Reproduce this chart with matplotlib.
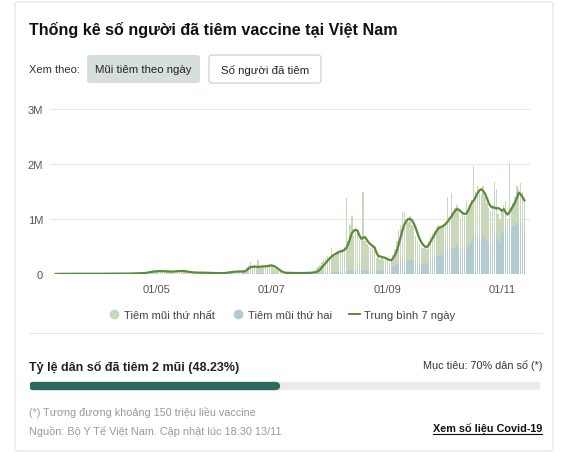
import numpy as np
import pandas as pd
import matplotlib.pyplot as plt
from matplotlib.patches import FancyBboxPatch
from matplotlib.lines import Line2D

plt.rcParams['font.family'] = ['Liberation Sans', 'DejaVu Sans']

# daily doses (thousands), 08/03 -> 13/11
first_mar = [1,1,2,3,3,4,4,3,4,5,4,5,4,3,5,6,5,4,6,5,4,6,5,5]
first_apr = [4,5,6,5,4,7,6,6,7,5,8,7,6,9,8,7,10,9,12,10,11,13,15,18,25,30,45,55,60,50]
first_may = [70,40,55,60,45,80,50,40,35,55,45,75,50,60,45,40,30,25,30,35,20,30,25,22,28,20,18,25,15,20,18]
first_jun = [15,18,12,14,20,22,18,30,35,40,38,45,40,50,42,55,60,120,160,200,110,140,90,230,120,100,150,130,140,160]
first_jul = [170,120,90,60,40,30,20,25,18,15,20,22,18,20,15,18,20,17,16,20,25,30,40,60,90,120,150,200,230,270,300]
first_aug = [270,445,310,285,355,330,405,365,450,1310,540,835,980,640,775,680,555,630,1410,525,480,440,415,450,390,250,265,220,230,195,210]
first_sep = [170,130,140,230,300,420,600,680,900,870,760,720,790,650,610,490,400,360,320,310,320,270,380,440,470,500,530,560,500,530]
first_oct = [520,550,950,580,990,650,700,730,670,570,640,600,810,650,700,750,1260,850,920,890,830,900,760,700,640,610,650,950,850,480,420]
first_nov = [400,450,480,300,1130,380,420,500,650,630,690,600,480]

second_mar = [0]*24
second_apr = [0]*30
second_may = [0,0,0,0,0,0,0,0,0,0,1,1,1,2,2,2,2,3,2,3,3,2,3,3,4,3,3,4,3,4,3]
second_jun = [3,4,3,5,4,6,5,6,8,7,9,8,10,9,12,10,11,15,12,18,14,16,13,20,15,14,18,16,17,15]
second_jul = [15,12,10,8,6,5,4,4,3,3,4,4,3,4,3,4,4,3,3,4,5,6,8,10,12,15,18,20,25,28,30]
second_aug = [30,35,40,35,45,50,45,55,50,70,60,65,70,60,75,70,65,70,80,75,70,60,65,70,60,50,55,60,70,65,70]
second_sep = [80,70,90,120,150,180,200,220,250,260,240,230,260,250,240,210,200,190,180,170,200,180,220,260,280,300,320,340,330,350]
second_oct = [380,400,450,420,480,450,500,520,480,430,460,450,520,500,550,600,700,650,680,660,620,700,640,600,560,540,600,720,700,620,580]
second_nov = [750,800,850,700,900,820,880,900,950,920,960,900,870]

avg_mar = [1,2,2,3,3,3,3,4,4,4,4,4,4,4,5,5,5,5,5,5,5,5,5,5]
avg_apr = [5,5,5,5,6,6,6,6,6,6,7,7,7,8,8,8,9,9,10,10,11,12,14,16,20,25,32,38,44,48]
avg_may = [50,52,53,52,50,48,46,45,44,45,47,50,54,55,55,52,47,40,34,30,28,26,25,25,24,23,22,20,20,19,18]
avg_jun = [17,16,15,15,16,18,20,24,30,36,40,42,44,45,45,46,50,70,100,125,132,133,132,130,132,135,138,140,145,150]
avg_jul = [155,150,135,110,85,60,40,28,22,20,20,19,18,18,17,17,17,18,18,19,20,22,25,28,35,50,80,120,160,200,240]
avg_aug = [280,310,340,360,380,400,410,420,440,470,540,640,740,790,800,790,700,640,660,670,620,570,540,510,490,400,330,320,310,300,290]
avg_sep = [270,255,250,290,350,420,540,670,800,900,960,1000,1000,980,920,840,740,650,580,530,500,490,530,590,650,710,770,820,850,860]
avg_oct = [880,910,950,1000,1040,1100,1150,1180,1170,1140,1110,1090,1100,1150,1230,1300,1340,1400,1470,1520,1540,1510,1460,1380,1290,1230,1210,1210,1190,1200,1180]
avg_nov = [1150,1180,1120,1080,1120,1180,1240,1300,1380,1480,1450,1400,1340]

first = np.array(first_mar+first_apr+first_may+first_jun+first_jul+first_aug+first_sep+first_oct+first_nov) * 1000
second = np.array(second_mar+second_apr+second_may+second_jun+second_jul+second_aug+second_sep+second_oct+second_nov) * 1000
avg7 = np.array(avg_mar+avg_apr+avg_may+avg_jun+avg_jul+avg_aug+avg_sep+avg_oct+avg_nov) * 1000
dates = pd.date_range('2021-03-08', '2021-11-13')

yticks = [0, 1e6, 2e6, 3e6]
ylabels = ['0', '1M', '2M', '3M']
xticks = pd.to_datetime(['2021-05-01', '2021-07-01', '2021-09-01', '2021-11-01'])
xlabels = ['01/05', '01/07', '01/09', '01/11']

pct_done = 48.23

C_FIRST = '#c9d8ba'
C_SECOND = '#b3cbd0'
C_LINE = '#5b8a3c'

W, H = 562, 460
def fx(px): return px / W
def fy(py): return 1 - py / H

fig = plt.figure(figsize=(5.62, 4.6), dpi=100)
fig.patch.set_facecolor('white')

# card
card = FancyBboxPatch((fx(15), fy(452)), fx(553) - fx(15), fy(3) - fy(452),
                      boxstyle='round,pad=0,rounding_size=0.004', transform=fig.transFigure,
                      facecolor='white', edgecolor='#e2e2e2', lw=0.8, zorder=-10)
fig.patches.append(card)

fig.text(fx(29), fy(30), 'Thống kê số người đã tiêm vaccine tại Việt Nam',
         fontsize=11.6, fontweight='bold', color='#111111', va='center')
fig.text(fx(29), fy(70), 'Xem theo:', fontsize=8, color='#333333', va='center')

b1 = FancyBboxPatch((fx(87), fy(84)), fx(200) - fx(87), fy(56) - fy(84),
                    boxstyle='round,pad=0,rounding_size=0.006', transform=fig.transFigure,
                    facecolor='#d6dfda', edgecolor='none', zorder=-5)
fig.patches.append(b1)
fig.text(fx(143.5), fy(70), 'Mũi tiêm theo ngày', fontsize=8.2, color='#222222',
         ha='center', va='center', fontweight='medium')
b2 = FancyBboxPatch((fx(209), fy(84)), fx(321) - fx(209), fy(56) - fy(84),
                    boxstyle='round,pad=0,rounding_size=0.006', transform=fig.transFigure,
                    facecolor='white', edgecolor='#cccccc', lw=0.8, zorder=-5)
fig.patches.append(b2)
fig.text(fx(265), fy(70), 'Số người đã tiêm', fontsize=8.2, color='#222222',
         ha='center', va='center')

# main chart
ax = fig.add_axes([fx(50), fy(275), fx(530) - fx(50), fy(110) - fy(275)])
ax.bar(dates, second, width=0.75, color=C_SECOND, linewidth=0, zorder=2)
ax.bar(dates, first, bottom=second, width=0.75, color=C_FIRST, linewidth=0, zorder=2)
ax.plot(dates, avg7, color=C_LINE, lw=1.6, zorder=3)
ax.set_ylim(0, 3e6)
ax.set_xlim(pd.Timestamp('2021-03-05'), pd.Timestamp('2021-11-16'))
ax.set_yticks(yticks)
ax.set_yticklabels(ylabels)
ax.set_xticks(xticks)
ax.set_xticklabels(xlabels)
ax.tick_params(length=0, labelsize=8, labelcolor='#555555')
ax.tick_params(axis='y', pad=5)
ax.tick_params(axis='x', pad=7)
ax.grid(axis='y', color='#e8e8e8', lw=0.8, zorder=0)
for s in ax.spines.values():
    s.set_visible(False)
ax.set_axisbelow(True)
ax.patch.set_alpha(0)

handles = [Line2D([], [], marker='o', ls='none', markersize=7, markerfacecolor=C_FIRST, markeredgecolor='none'),
           Line2D([], [], marker='o', ls='none', markersize=7, markerfacecolor=C_SECOND, markeredgecolor='none'),
           Line2D([], [], color=C_LINE, lw=1.4)]
fig.legend(handles, ['Tiêm mũi thứ nhất', 'Tiêm mũi thứ hai', 'Trung bình 7 ngày'],
           loc='center', bbox_to_anchor=(fx(282), fy(316)), ncol=3, frameon=False,
           fontsize=8.1, labelcolor='#444444', handlelength=1.0, handletextpad=0.4,
           columnspacing=1.5)

fig.add_artist(Line2D([fx(30), fx(542)], [fy(334), fy(334)], color='#e6e6e6', lw=0.8))

fig.text(fx(29), fy(367), 'Tỷ lệ dân số đã tiêm 2 mũi (%.2f%%)' % pct_done,
         fontsize=9.0, fontweight='bold', color='#222222', va='center')
fig.text(fx(542), fy(366), 'Mục tiêu: 70% dân số (*)', fontsize=7.8, color='#333333',
         ha='right', va='center')

# progress bar
pax = fig.add_axes([fx(30), fy(392), fx(540) - fx(30), fy(382) - fy(392)])
pax.plot([0, 100], [0, 0], color='#ebebeb', lw=6, solid_capstyle='round')
pax.plot([0, pct_done], [0, 0], color='#2c6b5b', lw=6, solid_capstyle='round')
pax.set_xlim(-0.6, 100.6)
pax.set_ylim(-1, 1)
pax.axis('off')

fig.text(fx(29), fy(413), '(*) Tương đương khoảng 150 triệu liều vaccine', fontsize=7.75,
         color='#999999', va='center')
fig.text(fx(29), fy(432), 'Nguồn: Bộ Y Tế Việt Nam. Cập nhật lúc 18:30 13/11', fontsize=7.8,
         color='#999999', va='center')
fig.text(fx(542), fy(429), 'Xem số liệu Covid-19', fontsize=7.85, fontweight='bold',
         color='#111111', ha='right', va='center')
fig.add_artist(Line2D([fx(433), fx(542)], [fy(435), fy(435)], color='#111111', lw=0.8))

fig.savefig('out.png', dpi=100)
